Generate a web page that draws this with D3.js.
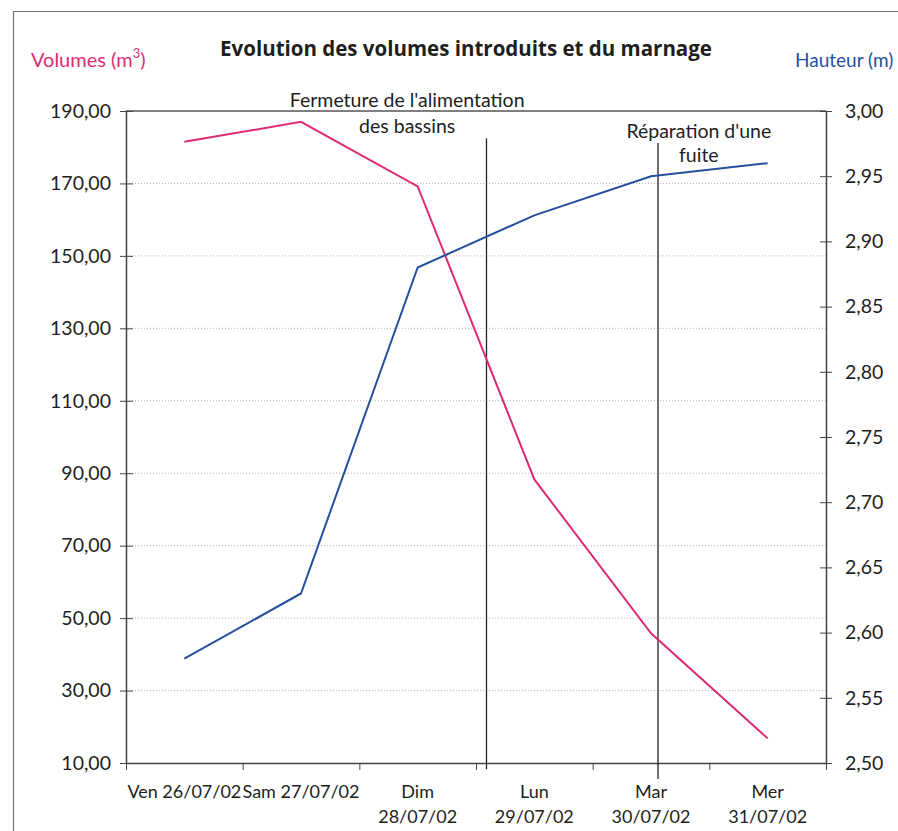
<!DOCTYPE html>
<html>
<head>
<meta charset="utf-8">
<script src="https://cdn.jsdelivr.net/npm/d3@7/dist/d3.min.js"></script>
<style>
  body { margin: 0; background: #fff; }
  svg text { font-family: Lato, 'Open Sans', sans-serif; fill: #1e1e1e; }
</style>
</head>
<body>
<div id="chart"></div>
<script>
// categories (wrapped the way the axis shows them)
var categories = [
  ["Ven 26/07/02"],
  ["Sam 27/07/02"],
  ["Dim", "28/07/02"],
  ["Lun", "29/07/02"],
  ["Mar", "30/07/02"],
  ["Mer", "31/07/02"]
];
var volumes = [181.5, 187.0, 169.2, 88.3, 45.8, 16.8];
var hauteurs = [2.58, 2.63, 2.88, 2.92, 2.95, 2.96];
var volumeTicks = [10, 30, 50, 70, 90, 110, 130, 150, 170, 190];
var hauteurTicks = [2.50, 2.55, 2.60, 2.65, 2.70, 2.75, 2.80, 2.85, 2.90, 2.95, 3.00];

// annotations: x along the category axis (0 = left edge, 6 = right edge), y in volume units
var annotations = [
  {x: 3.09, y1: 182.5, y2: 8.3, tx: 2.41, lines: ["Fermeture de l'alimentation", "des bassins"], ty: [191.0, 183.8]},
  {x: 4.56, y1: 181.2, y2: 5.6, tx: 4.91, lines: ["Réparation d'une", "fuite"], ty: [182.6, 175.8]}
];

var pink = "#dc2b74",
    blue = "#25509c";

var W = 898, H = 831,
    margin = {top: 111, right: 72, bottom: 68, left: 126},
    width = W - margin.left - margin.right,
    height = H - margin.top - margin.bottom;

var fr = d3.formatLocale({decimal: ",", thousands: " ", grouping: [3], currency: ["", "€"]}).format(".2f");

var svg = d3.select("#chart").append("svg")
    .attr("width", W)
    .attr("height", H);

// outer frame
svg.append("path")
    .attr("d", "M13.5," + H + "V11.5H" + W)
    .attr("fill", "none")
    .attr("stroke", "#777")
    .attr("stroke-width", 1.2);

var g = svg.append("g")
    .attr("transform", "translate(" + margin.left + "," + margin.top + ")");

var x = d3.scaleLinear().domain([0, categories.length]).range([0, width]),
    yL = d3.scaleLinear().domain([10, 190]).range([height, 0]),
    yR = d3.scaleLinear().domain([2.5, 3.0]).range([height, 0]);

// grid lines
g.append("g")
    .selectAll("line")
    .data(volumeTicks.slice(1, -1))
  .enter().append("line")
    .attr("x1", 0).attr("x2", width)
    .attr("y1", function(d) { return yL(d); })
    .attr("y2", function(d) { return yL(d); })
    .attr("stroke", "#b5b5b5")
    .attr("stroke-dasharray", "1,2");

// top border of plot
g.append("line")
    .attr("x1", 0).attr("x2", width)
    .attr("y1", 0).attr("y2", 0)
    .attr("stroke", "#555")
    .attr("stroke-width", 1.5);

// left axis
var axL = g.append("g")
    .call(d3.axisLeft(yL).tickValues(volumeTicks).tickFormat(fr).tickSizeInner(6).tickSizeOuter(0).tickPadding(9));
axL.selectAll(".tick line").attr("x1", 7);

// right axis
var axR = g.append("g")
    .attr("transform", "translate(" + width + ",0)")
    .call(d3.axisRight(yR).tickValues(hauteurTicks).tickFormat(fr).tickSizeInner(6).tickSizeOuter(0).tickPadding(13));
axR.selectAll(".tick line").attr("x1", -6);

// bottom axis: ticks at category boundaries
var axB = g.append("g")
    .attr("transform", "translate(0," + height + ")")
    .call(d3.axisBottom(x).tickValues(d3.range(0, categories.length + 1)).tickFormat("").tickSizeInner(7).tickSizeOuter(0));

[axL, axR, axB].forEach(function(a) {
  a.select(".domain").attr("stroke", "#444").attr("stroke-width", 1.5);
  a.selectAll(".tick line").attr("stroke", "#444");
  a.selectAll(".tick text").style("font-size", "19.5px").attr("fill", "#1e1e1e");
});

// category labels
var lab = g.append("g")
  .selectAll("text")
    .data(categories)
  .enter().append("text")
    .attr("x", function(d, i) { return x(i + 0.5); })
    .attr("y", height + 35)
    .attr("text-anchor", "middle")
    .style("font-size", "18px");
lab.selectAll("tspan")
    .data(function(d) { return d; })
  .enter().append("tspan")
    .attr("x", function() { return d3.select(this.parentNode).attr("x"); })
    .attr("dy", function(d, i) { return i === 0 ? 0 : 25; })
    .text(function(d) { return d; });

// annotation lines and texts
annotations.forEach(function(a) {
  g.append("line")
      .attr("x1", x(a.x)).attr("x2", x(a.x))
      .attr("y1", yL(a.y1)).attr("y2", yL(a.y2))
      .attr("stroke", "#222")
      .attr("stroke-width", 1.3);
  a.lines.forEach(function(t, i) {
    g.append("text")
        .attr("x", x(a.tx))
        .attr("y", yL(a.ty[i]))
        .attr("text-anchor", "middle")
        .style("font-size", "19.5px")
        .text(t);
  });
});

// series lines
var lineL = d3.line()
    .x(function(d, i) { return x(i + 0.5); })
    .y(function(d) { return yL(d); });
var lineR = d3.line()
    .x(function(d, i) { return x(i + 0.5); })
    .y(function(d) { return yR(d); });

g.append("path")
    .datum(volumes)
    .attr("d", lineL)
    .attr("fill", "none")
    .attr("stroke", pink)
    .attr("stroke-width", 2);

g.append("path")
    .datum(hauteurs)
    .attr("d", lineR)
    .attr("fill", "none")
    .attr("stroke", blue)
    .attr("stroke-width", 2);

// titles
svg.append("text")
    .attr("x", 466)
    .attr("y", 56)
    .attr("text-anchor", "middle")
    .style("font-family", "'Open Sans', Lato, sans-serif")
    .style("font-size", "20.5px")
    .style("font-weight", "bold")
    .text("Evolution des volumes introduits et du marnage");

var tl = svg.append("text")
    .attr("x", 31)
    .attr("y", 67)
    .style("font-size", "20px")
    .style("fill", pink);
tl.append("tspan").text("Volumes (m");
tl.append("tspan").attr("dy", -9).style("font-size", "13px").text("3");
tl.append("tspan").attr("dy", 9).text(")");

svg.append("text")
    .attr("x", 795)
    .attr("y", 67)
    .style("font-size", "19px")
    .style("fill", blue)
    .text("Hauteur (m)");
</script>
</body>
</html>
